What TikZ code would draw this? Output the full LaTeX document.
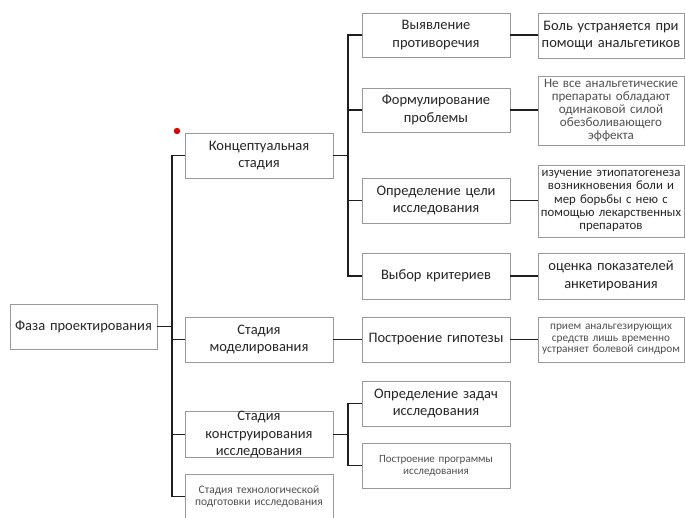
\documentclass[tikz,border=0pt]{standalone}
\usepackage{fontspec}
\setmainfont{Carlito}
\begin{document}
\begin{tikzpicture}[x=1pt,y=-1pt,
  box/.style={draw=boxgray, line width=0.9pt, inner sep=0pt, align=center,
    text=textdark, font=\fontsize{14.5}{17.5}\selectfont},
  conn/.style={draw=linedark, line width=1.6pt, line cap=rect},
]
\definecolor{boxgray}{HTML}{9A9A9A}
\definecolor{textdark}{HTML}{262626}
\definecolor{textgray}{HTML}{505050}
\definecolor{linedark}{HTML}{1E1E1E}
\useasboundingbox (0,0) rectangle (685,518);
\fill[white] (0,0) rectangle (685,518);

% level 0
\node[box, text width=147pt, minimum height=45pt] (faza) at (83.5,326.5) {Фаза проектирования};
% level 1
\node[box, text width=148pt, minimum height=45pt] (konc) at (259,155.5) {Концептуальная\\стадия};
\node[box, text width=148pt, minimum height=45pt] (model) at (259,339.5) {Стадия\\моделирования};
\node[box, text width=148pt, minimum height=45pt] (konstr) at (259,434.5) {Стадия\\конструирования\\исследования};
\node[box, text width=148pt, minimum height=45pt, text=textgray, font=\fontsize{11.5}{12.5}\selectfont] (tech) at (259,496.5) {Стадия технологической\\подготовки исследования};
% level 2
\node[box, text width=148pt, minimum height=44pt] (vyyav) at (436,35) {Выявление\\противоречия};
\node[box, text width=148pt, minimum height=44pt] (form) at (436,110) {Формулирование\\проблемы};
\node[box, text width=148pt, minimum height=45pt] (opr) at (436,200.5) {Определение цели\\исследования};
\node[box, text width=148pt, minimum height=46pt] (vybor) at (436,276) {Выбор критериев};
\node[box, text width=148pt, minimum height=45pt] (gip) at (436,339.5) {Построение гипотезы};
\node[box, text width=148pt, minimum height=45pt] (zadach) at (436,403.5) {Определение задач\\исследования};
\node[box, text width=148pt, minimum height=45pt, text=textgray, font=\fontsize{11}{12}\selectfont] (progr) at (436,465.5) {Построение программы\\исследования};
% level 3
\node[box, text width=146pt, minimum height=45pt] (bol) at (611,35.5) {Боль устраняется при\\помощи анальгетиков};
\node[box, text width=146pt, minimum height=69pt, text=textgray, font=\fontsize{13}{13}\selectfont] (nevse) at (611,110.5) {Не все анальгетические\\препараты обладают\\одинаковой силой\\обезболивающего\\эффекта};
\node[box, text width=146pt, minimum height=72pt, text=textdark, font=\fontsize{12.8}{13.2}\selectfont] (izuch) at (611,201) {изучение этиопатогенеза\\возникновения боли и\\мер борьбы с нею с\\помощью лекарственных\\препаратов};
\node[box, text width=146pt, minimum height=46pt] (ocenka) at (611,276) {оценка показателей\\анкетирования};
\node[box, text width=146pt, minimum height=45pt, text=textgray, font=\fontsize{11.3}{11.5}\selectfont] (priem) at (611,339.5) {прием анальгезирующих\\средств лишь временно\\устраняет болевой синдром};

% bus coordinates
\coordinate (bx) at (172,0);
\coordinate (cx) at (348,0);

% level 0 -> level 1
\draw[conn] (faza.east) -- (faza.east -| bx);
\draw[conn] (konc.west) -- (konc.west -| bx) -- (tech.west -| bx) -- (tech.west);
\draw[conn] (model.west) -- (model.west -| bx);
\draw[conn] (konstr.west) -- (konstr.west -| bx);

% konc -> level 2
\draw[conn] (konc.east) -- (konc.east -| cx);
\draw[conn] (vyyav.west) -- (vyyav.west -| cx) -- (vybor.west -| cx) -- (vybor.west);
\draw[conn] (form.west) -- (form.west -| cx);
\draw[conn] (opr.west) -- (opr.west -| cx);

% model -> gip
\draw[conn] (model.east) -- (gip.west);

% konstr -> level 2
\draw[conn] (konstr.east) -- (konstr.east -| cx);
\draw[conn] (zadach.west) -- (zadach.west -| cx) -- (progr.west -| cx) -- (progr.west);

% level 2 -> level 3
\draw[conn] (vyyav.east) -- (bol.west |- vyyav.east);
\draw[conn] (form.east) -- (nevse.west |- form.east);
\draw[conn] (opr.east) -- (izuch.west |- opr.east);
\draw[conn] (vybor.east) -- (ocenka.west |- vybor.east);
\draw[conn] (gip.east) -- (priem.west |- gip.east);

% red dot
\fill[red!90!black] (177,131) circle (3.2pt);
\end{tikzpicture}
\end{document}
